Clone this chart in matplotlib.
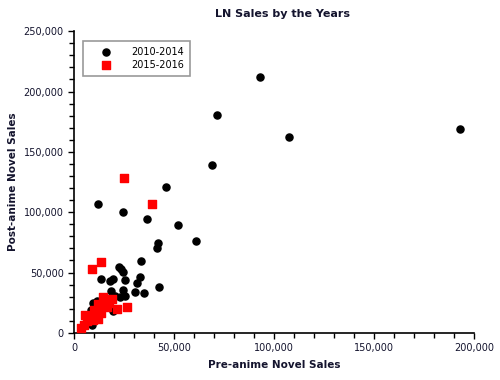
import matplotlib.pyplot as plt
from matplotlib.ticker import FuncFormatter, MultipleLocator

# 2010-2014 titles: (pre-anime sales, post-anime sales)
pre_2010 = [93000, 71500, 107500, 193000, 69000, 46000, 12000, 24350, 36350, 52150,
            42000, 41350, 60850, 42350, 33350, 22350, 24650, 23500, 13350, 19350,
            18000, 25650, 33000, 31250, 35000, 30350, 24350, 18350, 20250, 23000,
            25350, 11350, 9650, 8350, 19650, 9000, 7000]
post_2010 = [212000, 180500, 162300, 168900, 139100, 120900, 107200, 99800, 94000, 89800,
             74800, 70600, 76400, 38300, 59900, 54900, 50500, 53000, 45000, 45000,
             42800, 43500, 46600, 41600, 32700, 33900, 35600, 34800, 30200, 29800,
             30900, 26500, 24600, 19000, 18200, 6400, 8300]

# 2015-2016 titles
pre_2015 = [25000, 39150, 13250, 9000, 26650, 14650, 15350, 19000, 13650, 12000,
            21350, 10000, 13350, 5350, 8350, 11350, 6650, 9350, 5000, 3650,
            12000, 16350, 17500]
post_2015 = [128300, 106600, 58400, 52700, 21300, 29600, 25100, 27900, 21800, 24000,
             20100, 19000, 16300, 14900, 13500, 14700, 10200, 10800, 6400, 4100,
             11800, 21800, 24800]

text_col = "#14142e"

fig = plt.figure(figsize=(5, 3.8), dpi=100)
ax = fig.add_axes([0.148, 0.124, 0.8, 0.794])

ax.scatter(pre_2010, post_2010, s=26, color="black", marker="o", label="2010-2014", zorder=3)
ax.scatter(pre_2015, post_2015, s=32, color="#ff0000", marker="s", label="2015-2016", zorder=3)

ax.set_xlim(0, 200000)
ax.set_ylim(0, 250000)
ax.xaxis.set_major_locator(MultipleLocator(50000))
ax.xaxis.set_minor_locator(MultipleLocator(10000))
ax.yaxis.set_major_locator(MultipleLocator(50000))
ax.yaxis.set_minor_locator(MultipleLocator(10000))
fmt = FuncFormatter(lambda v, p: f"{int(v):,}")
ax.xaxis.set_major_formatter(fmt)
ax.yaxis.set_major_formatter(fmt)

for side in ["top", "right"]:
    ax.spines[side].set_visible(False)
for side in ["left", "bottom"]:
    ax.spines[side].set_linewidth(1.2)

ax.tick_params(which="major", length=4.5, width=1, labelsize=7, labelcolor=text_col, pad=3)
ax.tick_params(which="minor", length=3.5, width=1)

ax.set_title("LN Sales by the Years", fontsize=8, fontweight="bold", color=text_col,
             x=0.522, pad=10)
ax.set_xlabel("Pre-anime Novel Sales", fontsize=7.5, fontweight="bold", color=text_col, labelpad=5)
ax.set_ylabel("Post-anime Novel Sales", fontsize=7.5, fontweight="bold", color=text_col, labelpad=4)

leg = ax.legend(loc="upper left", bbox_to_anchor=(0.022, 0.967), fontsize=7, frameon=True,
                fancybox=False, edgecolor="#808080", borderpad=0.6, handlelength=3.5,
                handletextpad=0.85, borderaxespad=0, labelspacing=0.3)
leg.get_frame().set_linewidth(1.2)

fig.savefig("out.png", dpi=100)
